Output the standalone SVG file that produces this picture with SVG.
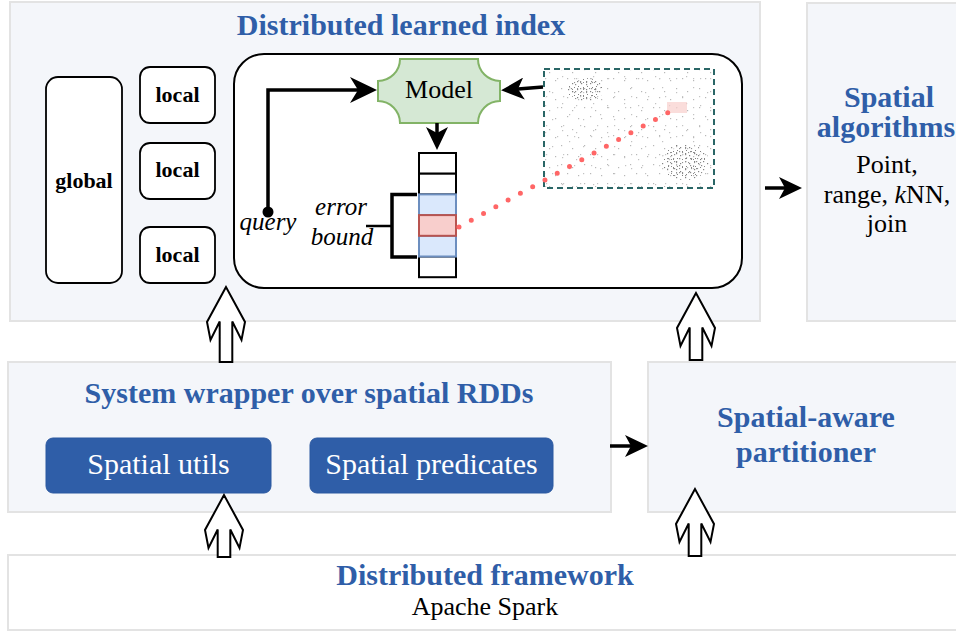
<svg xmlns="http://www.w3.org/2000/svg" width="956" height="633" viewBox="0 0 956 633">
  <style>
    .panel { fill: #f4f6fa; stroke: #e3e3e3; stroke-width: 2; }
    .panel-white { fill: #ffffff; stroke: #e3e3e3; stroke-width: 2; }
    .box { fill: #ffffff; stroke: #000000; stroke-width: 1.8; }
    .head { font-family: "Liberation Serif", "Times New Roman", serif; font-weight: bold; font-size: 30px; fill: #2f5ea8; text-anchor: middle; }
    .plain { font-family: "Liberation Serif", "Times New Roman", serif; font-size: 26px; fill: #000000; text-anchor: middle; }
    .bold22 { font-family: "Liberation Serif", "Times New Roman", serif; font-weight: bold; font-size: 22px; fill: #000000; text-anchor: middle; }
    .ital { font-family: "Liberation Serif", "Times New Roman", serif; font-style: italic; font-size: 25px; fill: #000000; text-anchor: middle; }
    .btn { fill: #2f5ea8; stroke: #2b58a0; stroke-width: 1; }
    .btn-text { font-family: "Liberation Serif", "Times New Roman", serif; font-size: 30px; fill: #ffffff; text-anchor: middle; }
    .line { fill: none; stroke: #000000; stroke-width: 3.5; }
    .block { fill: #ffffff; stroke: #000000; stroke-width: 2; stroke-linejoin: miter; }
    .cell { fill: #ffffff; stroke: #000000; stroke-width: 2; }
    .cell-blue { fill: #dae8fc; stroke: #6c8ebf; stroke-width: 2; }
    .cell-red { fill: #f8cecc; stroke: #b85450; stroke-width: 2; }
  </style>
  <defs>
    <marker id="headBig" markerUnits="userSpaceOnUse" markerWidth="27" markerHeight="26" viewBox="0 0 27 26" refX="8" refY="13" orient="auto">
      <path d="M0,0 L27,13 L0,26 L8,13 Z" fill="#000000"/>
    </marker>
    <marker id="headMid" markerUnits="userSpaceOnUse" markerWidth="23" markerHeight="22" viewBox="0 0 23 22" refX="6" refY="11" orient="auto">
      <path d="M0,0 L23,11 L0,22 L6,11 Z" fill="#000000"/>
    </marker>
    <!-- sparse background points of the scatter plot, three tile sizes so the texture does not look regular -->
    <pattern id="noiseA" patternUnits="userSpaceOnUse" width="23" height="19">
      <g fill="#8a8a8a">
        <rect x="3" y="4" width="1.2" height="1.2"/>
        <rect x="15" y="2" width="1.2" height="1.2"/>
        <rect x="9" y="12" width="1.2" height="1.2"/>
        <rect x="20" y="15" width="1.2" height="1.2"/>
      </g>
    </pattern>
    <pattern id="noiseB" patternUnits="userSpaceOnUse" width="31" height="27">
      <g fill="#9a9a9a">
        <rect x="11" y="6" width="1.2" height="1.2"/>
        <rect x="25" y="11" width="1.2" height="1.2"/>
        <rect x="4" y="22" width="1.2" height="1.2"/>
        <rect x="18" y="24" width="1.2" height="1.2"/>
      </g>
    </pattern>
    <pattern id="noiseC" patternUnits="userSpaceOnUse" width="17" height="29">
      <g fill="#a0a0a0">
        <rect x="2" y="9" width="1.2" height="1.2"/>
        <rect x="13" y="20" width="1.2" height="1.2"/>
      </g>
    </pattern>
    <!-- dense clusters, irregular tiles layered on top of each other -->
    <pattern id="denseA" patternUnits="userSpaceOnUse" width="9" height="8">
      <g fill="#6e6e6e">
        <rect x="1" y="1" width="1.2" height="1.2"/>
        <rect x="5" y="3" width="1.2" height="1.2"/>
        <rect x="2" y="6" width="1" height="1"/>
        <rect x="7" y="7" width="1" height="1"/>
      </g>
    </pattern>
    <pattern id="denseB" patternUnits="userSpaceOnUse" width="11" height="7">
      <g fill="#7a7a7a">
        <rect x="3" y="0" width="1.2" height="1.2"/>
        <rect x="8" y="4" width="1.2" height="1.2"/>
        <rect x="0" y="5" width="1" height="1"/>
      </g>
    </pattern>
    <pattern id="denseC" patternUnits="userSpaceOnUse" width="6" height="10">
      <g fill="#808080">
        <rect x="4" y="2" width="1.1" height="1.1"/>
        <rect x="1" y="8" width="1.1" height="1.1"/>
      </g>
    </pattern>
  </defs>

  <!-- background -->
  <rect x="0" y="0" width="956" height="633" fill="#ffffff"/>

  <!-- Distributed learned index -->
  <g id="learned-index">
    <rect class="panel" x="10" y="2" width="750" height="319"/>
    <text class="head" x="401" y="35">Distributed learned index</text>
  </g>

  <g id="global">
    <rect class="box" x="46" y="77" width="76" height="206" rx="12"/>
    <text class="bold22" x="84" y="188">global</text>
  </g>
  <g id="local-1">
    <rect class="box" x="140" y="67" width="75" height="56" rx="10"/>
    <text class="bold22" x="177.5" y="102">local</text>
  </g>
  <g id="local-2">
    <rect class="box" x="140" y="143" width="75" height="56" rx="10"/>
    <text class="bold22" x="177.5" y="177">local</text>
  </g>
  <g id="local-3">
    <rect class="box" x="140" y="227" width="75" height="56" rx="10"/>
    <text class="bold22" x="177.5" y="262">local</text>
  </g>

  <g id="model-detail">
    <rect x="234" y="54" width="508" height="234" rx="30" fill="#ffffff" stroke="#000000" stroke-width="2"/>
  </g>

  <g id="scatter">
    <rect x="544" y="69" width="170" height="119" fill="#ffffff"/>
    <g opacity="0.6">
      <rect x="545" y="70" width="168" height="117" fill="url(#noiseA)"/>
      <rect x="545" y="70" width="168" height="117" fill="url(#noiseB)"/>
      <rect x="545" y="70" width="168" height="117" fill="url(#noiseC)"/>
    </g>
    <g opacity="0.85">
      <ellipse cx="585" cy="90" rx="18" ry="12" fill="url(#denseA)"/>
      <ellipse cx="586" cy="91" rx="16" ry="11" fill="url(#denseB)"/>
      <ellipse cx="584" cy="89" rx="14" ry="10" fill="url(#denseC)"/>
      <ellipse cx="685" cy="162" rx="24" ry="18" fill="url(#denseA)"/>
      <ellipse cx="686" cy="163" rx="21" ry="16" fill="url(#denseB)"/>
      <ellipse cx="684" cy="161" rx="19" ry="15" fill="url(#denseC)"/>
    </g>
    <rect x="667" y="102" width="20" height="11" fill="#f8cecc" opacity="0.7"/>
    <rect x="544" y="69" width="170" height="119" fill="none" stroke="#2a6666" stroke-width="2" stroke-dasharray="6 4"/>
  </g>

  <g id="model">
    <path d="M400,59 L478,59 A22,22 0 0 0 500,81 L500,101 A22,22 0 0 0 478,123 L400,123 A22,22 0 0 0 378,101 L378,81 A22,22 0 0 0 400,59 Z" fill="#d5e8d4" stroke="#82b366" stroke-width="2"/>
    <text class="plain" x="439" y="98">Model</text>
  </g>

  <g id="position-array">
    <rect class="cell" x="419" y="153" width="37" height="20.7"/>
    <rect class="cell" x="419" y="173.7" width="37" height="20.7"/>
    <rect class="cell" x="419" y="256.5" width="37" height="20.7"/>
    <rect class="cell-blue" x="419" y="194.4" width="37" height="20.7"/>
    <rect class="cell-blue" x="419" y="235.8" width="37" height="20.7"/>
    <rect class="cell-red" x="419" y="215.1" width="37" height="20.7"/>
  </g>

  <g id="error-bound">
    <path d="M417,194.5 L392,194.5 L392,257 L417,257" fill="none" stroke="#000000" stroke-width="3.5"/>
    <path d="M366,226 L392,226" fill="none" stroke="#000000" stroke-width="2.5"/>
    <text class="ital" x="341" y="215">error</text>
    <text class="ital" x="342" y="245">bound</text>
  </g>

  <g id="query">
    <circle cx="268" cy="212" r="5.5" fill="#000000"/>
    <text class="ital" x="268" y="230">query</text>
  </g>

  <!-- Spatial algorithms -->
  <g id="spatial-algorithms">
    <rect class="panel" x="807" y="3" width="160" height="318"/>
    <text class="head" x="889" y="107">Spatial</text>
    <text class="head" x="886" y="137">algorithms</text>
    <text class="plain" x="887" y="173">Point,</text>
    <text class="plain" x="887" y="203">range, <tspan font-style="italic">k</tspan>NN,</text>
    <text class="plain" x="887" y="232">join</text>
  </g>

  <!-- System wrapper -->
  <g id="system-wrapper">
    <rect class="panel" x="8" y="362" width="603" height="150"/>
    <text class="head" x="309" y="403">System wrapper over spatial RDDs</text>
  </g>
  <g id="spatial-utils">
    <rect class="btn" x="46" y="438" width="225" height="55" rx="7"/>
    <text class="btn-text" x="158.5" y="474">Spatial utils</text>
  </g>
  <g id="spatial-predicates">
    <rect class="btn" x="310" y="438" width="243" height="55" rx="7"/>
    <text class="btn-text" x="431.5" y="474">Spatial predicates</text>
  </g>

  <!-- Partitioner -->
  <g id="partitioner">
    <rect class="panel" x="648" y="362" width="320" height="150"/>
    <text class="head" x="806" y="427">Spatial-aware</text>
    <text class="head" x="806" y="462">partitioner</text>
  </g>

  <!-- Distributed framework -->
  <g id="framework">
    <rect class="panel-white" x="8" y="555" width="960" height="75"/>
    <text class="head" x="485" y="585">Distributed framework</text>
    <text class="plain" x="485" y="615">Apache Spark</text>
  </g>

  <!-- connectors -->
  <g id="connectors">
    <path class="line" d="M268,212 L268,90 L358,90" marker-end="url(#headBig)"/>
    <path class="line" d="M543,87 L518,89" stroke-width="3" marker-end="url(#headMid)"/>
    <path class="line" d="M437,123 L437,133" stroke-width="3" marker-end="url(#headMid)"/>
    <path d="M459,227 L668,112.5" fill="none" stroke="#ff6666" stroke-width="5" stroke-linecap="round" stroke-dasharray="0 14"/>
    <path class="line" d="M765,188 L785,188" stroke-width="3.5" marker-end="url(#headMid)"/>
    <path class="line" d="M610,446 L631,446" stroke-width="3.5" marker-end="url(#headMid)"/>

    <!-- hollow block arrows -->
    <path class="block" d="M226,287 L207,322 L210.5,340 L219.7,321.5 L219.7,362 L232.3,362 L232.3,321.5 L241.5,340 L245,322 Z"/>
    <path class="block" d="M696,293 L677,328 L680.5,346 L689.7,327.5 L689.7,360 L702.3,360 L702.3,327.5 L711.5,346 L715,328 Z"/>
    <path class="block" d="M224,495 L205,530 L208.5,548 L217.7,529.5 L217.7,557 L230.3,557 L230.3,529.5 L239.5,548 L243,530 Z"/>
    <path class="block" d="M695,489 L676,524 L679.5,542 L688.7,523.5 L688.7,556 L701.3,556 L701.3,523.5 L710.5,542 L714,524 Z"/>
  </g>
</svg>
